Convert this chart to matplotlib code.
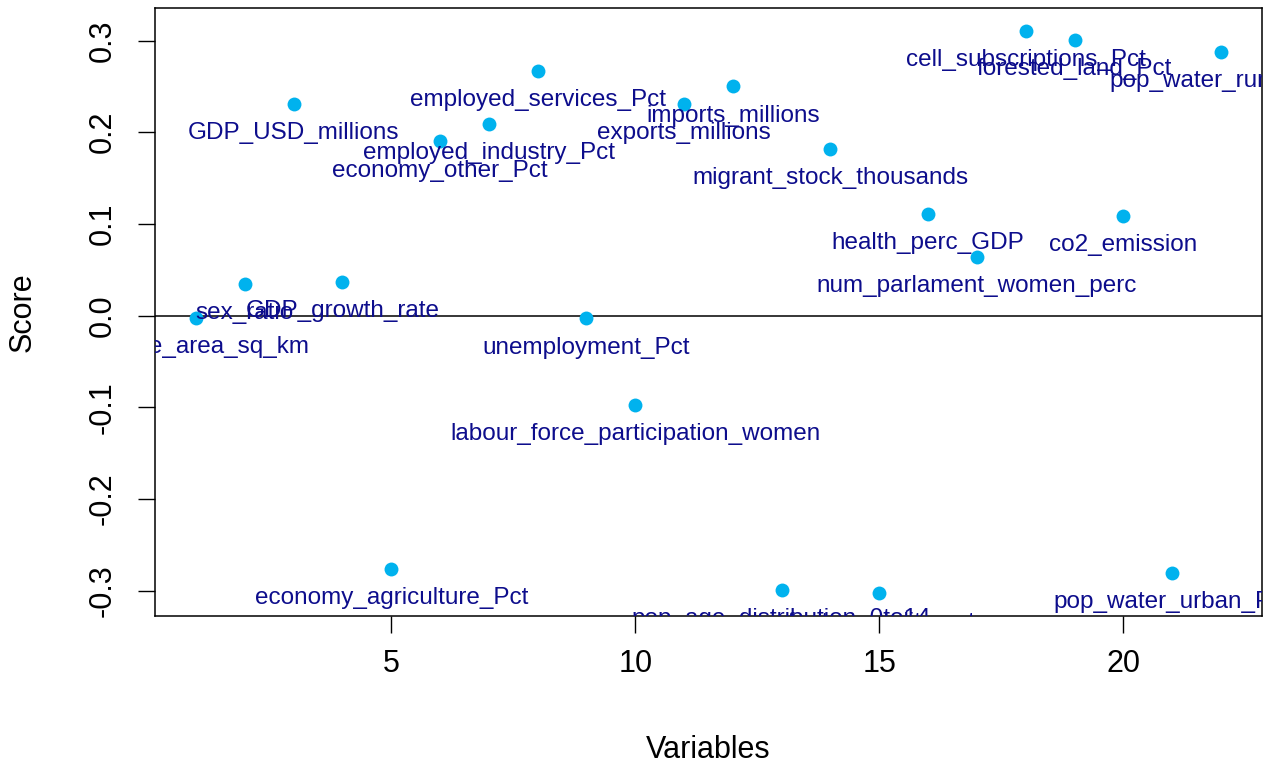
import matplotlib
matplotlib.use("Agg")
import matplotlib.pyplot as plt
import numpy as np

plt.rcParams['font.family'] = ['Liberation Sans', 'DejaVu Sans']

variables = [
    "surface_area_sq_km", "sex_ratio", "GDP_USD_millions", "GDP_growth_rate",
    "economy_agriculture_Pct", "economy_other_Pct", "employed_industry_Pct",
    "employed_services_Pct", "unemployment_Pct", "labour_force_participation_women",
    "exports_millions", "imports_millions", "pop_age_distribution_0to14",
    "migrant_stock_thousands", "infant_mortality_rate", "health_perc_GDP",
    "num_parlament_women_perc", "cell_subscriptions_Pct", "forested_land_Pct",
    "co2_emission", "pop_water_urban_Pct", "pop_water_rural_Pct",
]
scores = [
    -0.002, 0.035, 0.231, 0.037, -0.276, 0.190, 0.209, 0.267, -0.003, -0.097,
    0.231, 0.250, -0.299, 0.182, -0.303, 0.111, 0.064, 0.311, 0.301, 0.109,
    -0.281, 0.288,
]
idx = np.arange(1, len(scores) + 1)

fig = plt.figure(figsize=(12.7, 7.7), dpi=100)
ax = fig.add_axes([0.122, 0.2, 0.8717, 0.7896])

ax.scatter(idx, scores, s=100, color="#00B2EE", zorder=3, linewidths=0)
ax.axhline(0, color="black", lw=1.1)

# labels below each point, clipped to the plot region like R's text(pos=1)
for xi, yi, name in zip(idx, scores, variables):
    ax.annotate(name, (xi, yi), xytext=(0, -21), textcoords="offset points",
                ha="center", va="center", fontsize=17.5, color="#0D0D8C",
                annotation_clip=False, clip_on=True)

# R-style 4% padding
rng = max(scores) - min(scores)
ax.set_xlim(1 - 0.04 * 21, 22 + 0.04 * 21)
ax.set_ylim(min(scores) - 0.04 * rng, max(scores) + 0.04 * rng)

ax.set_xticks([5, 10, 15, 20])
ax.set_yticks([-0.3, -0.2, -0.1, 0.0, 0.1, 0.2, 0.3])
ax.set_yticklabels(["-0.3", "-0.2", "-0.1", "0.0", "0.1", "0.2", "0.3"],
                   rotation=90, va="center")
ax.tick_params(axis="both", length=12, width=1, labelsize=22, pad=12,
               direction="out")
ax.tick_params(axis="y", pad=15)
for sp in ax.spines.values():
    sp.set_linewidth(1.1)

ax.set_xlabel("Variables", fontsize=22, labelpad=40)
ax.set_ylabel("Score", fontsize=22, labelpad=36)

fig.savefig("out.png", dpi=100)
